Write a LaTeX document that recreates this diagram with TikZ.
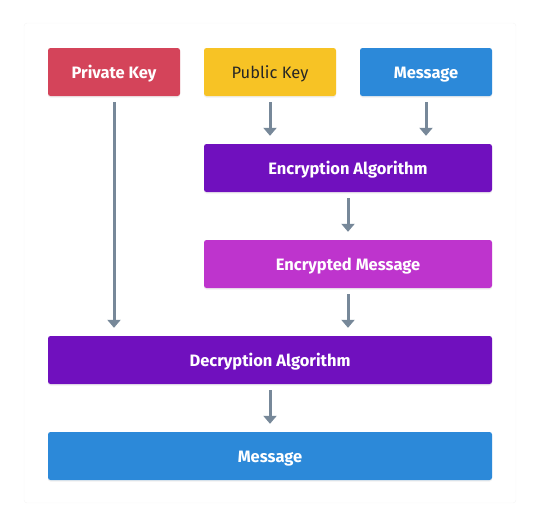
\documentclass[tikz,border=0pt]{standalone}
\usepackage{fontspec}
\setmainfont{Fira Sans}
\usepackage{tikz}
\usetikzlibrary{arrows.meta,shadows}

\definecolor{keyred}{HTML}{D4445A}
\definecolor{keyyellow}{HTML}{F7C325}
\definecolor{msgblue}{HTML}{2C89D9}
\definecolor{algpurple}{HTML}{7010BE}
\definecolor{encmagenta}{HTML}{BE34CD}
\definecolor{arrowgray}{HTML}{778899}

\begin{document}
\begin{tikzpicture}[x=1pt,y=-1pt,
    box/.style={rounded corners=2.5pt, inner sep=0pt, text=white,
      font=\fontsize{16.5}{20}\selectfont\bfseries,
      text height=13pt, text depth=1pt,
      drop shadow={opacity=0.12, shadow xshift=0pt, shadow yshift=-1.5pt}},
    small/.style={box, minimum width=132pt, minimum height=48pt},
    wide/.style={box, minimum width=288pt, minimum height=48pt},
    full/.style={box, minimum width=444pt, minimum height=48pt},
    flow/.style={draw=arrowgray, line width=3pt,
      -{Triangle[width=13pt,length=8pt]}, shorten <=6pt, shorten >=8pt}]
                \useasboundingbox (0,0) rectangle (540,528);
                \draw[draw=black!4, fill=white, rounded corners=3pt] (24,23) rectangle (516,503);
                % top row
                \node[small, fill=keyred] (pk) at (114,72) {Private Key};
                \node[small, fill=keyyellow, text=black!85, font=\fontsize{16.5}{20}\selectfont] (pub) at (270,72) {Public Key};
                \node[small, fill=msgblue] (msg) at (426,72) {Message};
                % middle
                \node[wide, fill=algpurple] (enc) at (348,168) {Encryption Algorithm};
                \node[wide, fill=encmagenta] (encm) at (348,264) {Encrypted Message};
                % bottom
                \node[full, fill=algpurple] (dec) at (270,360) {Decryption Algorithm};
                \node[full, fill=msgblue] (out) at (270,456) {Message};
                \draw[flow] (pk.south) -- (pk.south |- dec.north);
                \draw[flow] (pub.south) -- (pub.south |- enc.north);
                \draw[flow] (msg.south) -- (msg.south |- enc.north);
                \draw[flow] (enc.south) -- (encm.north);
                \draw[flow] (encm.south) -- (encm.south |- dec.north);
                \draw[flow] (dec.south) -- (out.north);
            \end{tikzpicture}
\end{document}
